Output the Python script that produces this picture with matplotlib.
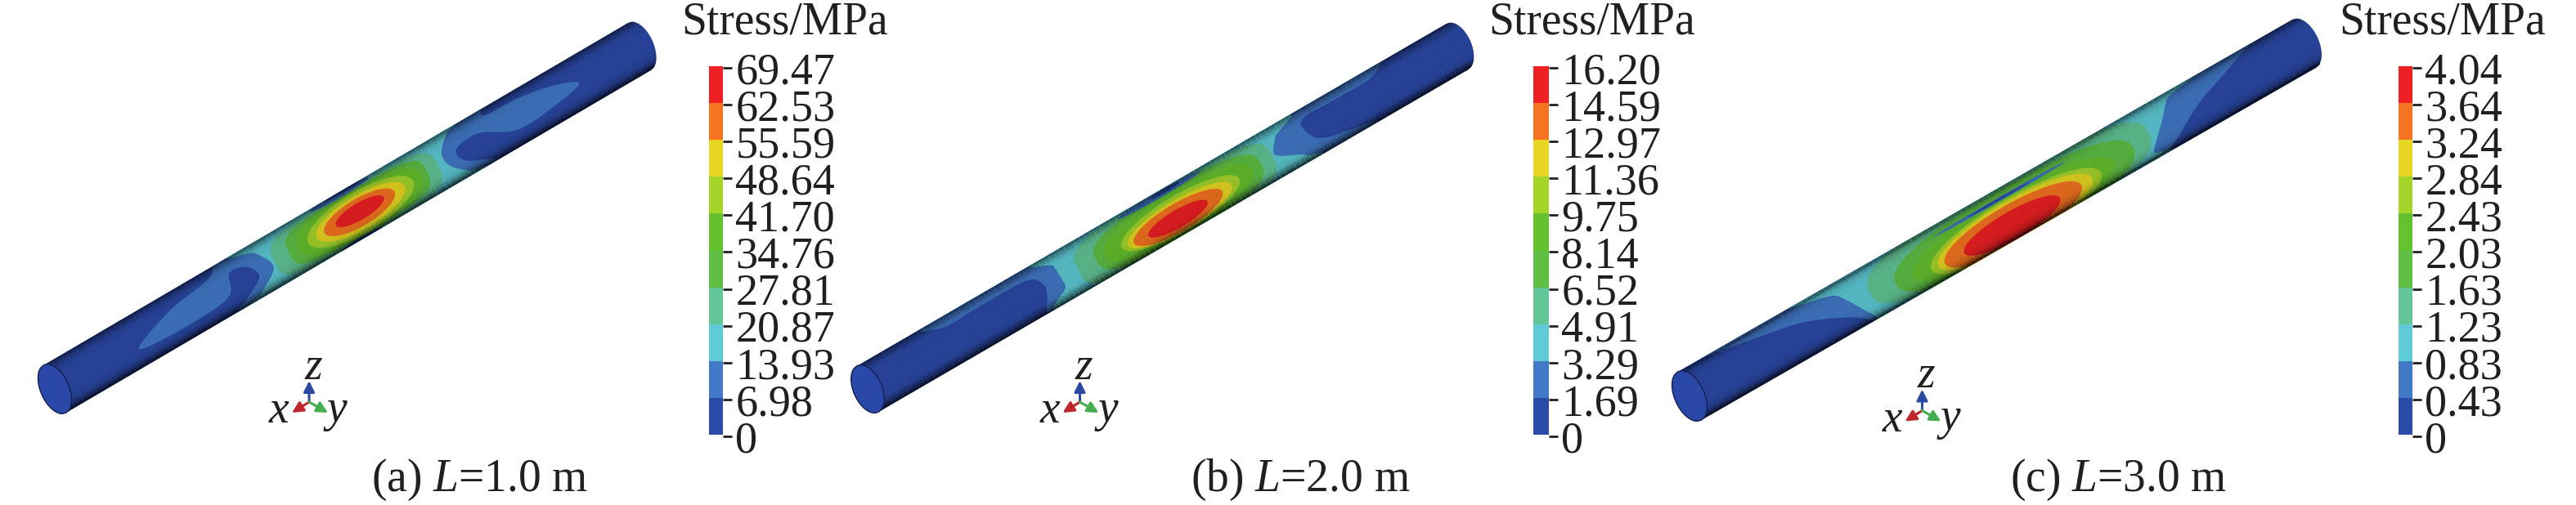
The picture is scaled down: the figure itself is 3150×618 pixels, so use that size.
"""
Three pipe stress contour panels (L = 1, 2, 3 m) with stepped colour bars.
Contours are kept in tube coordinates: s along the pipe (0..1), t across it (-1..1).
"""

import numpy as np
import matplotlib
matplotlib.use('Agg')
import matplotlib.pyplot as plt
from matplotlib.colors import ListedColormap, LinearSegmentedColormap
from matplotlib.patches import PathPatch, Polygon
from matplotlib.path import Path
from matplotlib.transforms import Affine2D

plt.rcParams['font.family'] = ['Liberation Serif', 'DejaVu Serif']
plt.rcParams['mathtext.fontset'] = 'custom'
plt.rcParams['mathtext.rm'] = 'Liberation Serif'
plt.rcParams['mathtext.it'] = 'Liberation Serif:italic'

W, H = 3150, 618
INK = '#231f20'

# colour bands, bottom to top
BAND_COLORS = ['#2c4aa8', '#4279c7', '#5ecbd6', '#62c696', '#5fbf45',
               '#66c12f', '#a5d42b', '#e8d722', '#f47421', '#ee2024']

LEVELS_A = ['0', '6.98', '13.93', '20.87', '27.81', '34.76', '41.70', '48.64', '55.59', '62.53', '69.47']
LEVELS_B = ['0', '1.69', '3.29', '4.91', '6.52', '8.14', '9.75', '11.36', '12.97', '14.59', '16.20']
LEVELS_C = ['0', '0.43', '0.83', '1.23', '1.63', '2.03', '2.43', '2.84', '3.24', '3.64', '4.04']

CAPTIONS = [r'(a) $L$=1.0 m', r'(b) $L$=2.0 m', r'(c) $L$=3.0 m']
CAPTION_X = [587, 1590, 2591]

# near end centre, far end centre, half width vector of the pipe
TUBE_A = [(67, 476), (782, 57), (14, 29)]
TUBE_B = [(1061, 476), (1782, 57), (13.5, 28)]
TUBE_C = [(2066, 484.5), (2817.5, 53.5), (14.5, 29.5)]

# bar left, bar right, title centre
BAR_A = [867, 884, 960]
BAR_B = [1875, 1894, 1947]
BAR_C = [2933, 2950, 2987]

# triad origin
TRIAD_A = (378, 492)
TRIAD_B = (1320.5, 492)
TRIAD_C = (2350.5, 502.5)

# hand traced regions: level, s points, t points
OUTLINES_A = [
    (1, [.1425, .208, .277, .30, .38, .39, .285, .313, .345, .334, .307, .292, .23, .153],
        [.19, -.386, -.665, -1.1, -1.1, 1.1, 1.15, .75, .25, -.325, -.44, .31, .485, .41]),
    (1, [.66, .74, .749, .802, .856, .896, .8416, .782, .729, .69, .695, .745, .66],
        [-1.1, -1.1, -.72, -.647, -.405, .054, .337, .375, -.25, -.155, .40, 1.1, 1.1]),
    (2, [.336, .355, .3705, .34, .33, .695, .692, .67, .668, .688, .70],
        [-1.1, -.6, .2, .8, 1.1, 1.1, .8, .25, -.34, -.88, -1.1]),
]
OUTLINES_B = [
    (1, [.12, .36, .36, .29, .2976, .30, .28, .20, .14],
        [-1.1, -1.1, 1.1, 1.1, .385, -.05, -.545, -.6, -.6]),
    (1, [.66, .87, .866, .80, .754, .743, .763, .834, .84, .66],
        [-1.1, -1.1, -.65, -.62, -.636, -.31, .45, .86, 1.1, 1.1]),
    (2, [.32, .325, .328, .325, .72, .73, .69, .70, .71],
        [-1.1, -.5, .4, 1.1, 1.1, .7, .1, -.5, -1.1]),
]
OUTLINES_C = [
    (1, [.03, .12, .19, .2545, .29, .32, .30, .03],
        [-1.05, -.64, -.27, .456, 1.1, 1.1, -1.1, -1.1]),
    (1, [.70, .92, .90, .83, .775, .74, .70],
        [-1.1, -1.1, -.71, -.03, .776, 1.1, 1.1]),
    (2, [.22, .25, .286, .30, .74, .742, .77, .79, .80],
        [-1.1, -.5, .85, 1.1, 1.1, .7, -.1, -.74, -1.1]),
]

# elliptic regions: level, s centre, t centre, half s, half t, squareness
BLOBS_A = [
    (3, .515, .05, .14, .95, 4),
    (4, .518, .03, .118, .82, 4),
    (5, .521, .05, .105, .85, 2.6),
    (6, .522, .07, .09, .78, 2),
    (7, .522, .07, .075, .65, 2),
    (8, .52, .06, .06, .52, 2),
    (9, .521, .03, .041, .32, 2),
    (1, .505, -.92, .05, .13, 2),
    (0, .51, -.96, .03, .06, 2),
    (0, .506, 1.0, .035, .1, 2),
]
BLOBS_B = [
    (3, .52, .1, .165, 1.05, 4),
    (4, .525, .12, .14, .95, 3),
    (5, .525, .15, .125, .85, 2.4),
    (6, .527, .2, .10, .72, 2),
    (7, .525, .26, .088, .62, 2),
    (8, .521, .3, .075, .55, 2),
    (9, .52, .34, .05, .35, 2),
    (1, .51, -.85, .07, .12, 2),
    (0, .52, -.88, .025, .07, 2),
]
BLOBS_C = [
    (3, .52, .0, .227, 1.15, 3),
    (4, .525, .2, .193, 1.1, 2.4),
    (5, .522, .3, .163, 1.0, 2),
    (6, .524, .4, .138, .9, 2),
    (7, .522, .42, .125, .84, 2),
    (8, .518, .45, .111, .75, 2),
    (9, .516, .47, .078, .52, 2),
    (1, .516, -.62, .106, .07, 2),
    (0, .515, -.62, .05, .04, 2),
]

fig = plt.figure(figsize=(W / 100, H / 100), dpi=100)
ax = fig.add_axes([0, 0, 1, 1])
ax.set_xlim(0, W)
ax.set_ylim(H, 0)
ax.axis('off')

shade_cmap = LinearSegmentedColormap.from_list('shade', [(0, 0, 0, 0), (0, 0, 0, 1)])


def smooth_closed(s, t, n=14):
    """closed Catmull-Rom curve through the traced points"""
    pts = np.column_stack([s, t])
    out = []
    for i in range(len(pts)):
        p0, p1, p2, p3 = pts[i - 1], pts[i], pts[(i + 1) % len(pts)], pts[(i + 2) % len(pts)]
        for u in np.linspace(0, 1, n, endpoint=False):
            out.append(0.5 * (2 * p1 + (p2 - p0) * u + (2 * p0 - 5 * p1 + 4 * p2 - p3) * u ** 2
                              + (3 * p1 - p0 - 3 * p2 + p3) * u ** 3))
    return np.array(out)


def blob_points(sc, tc, hs, ht, power):
    th = np.linspace(0, 2 * np.pi, 120)
    c, v = np.cos(th), np.sin(th)
    return np.column_stack([sc + hs * np.sign(c) * np.abs(c) ** (2 / power),
                            tc + ht * np.sign(v) * np.abs(v) ** (2 / power)])


def draw_tube(tube, outlines, blobs):
    p0, p1, wv = tube
    trans = Affine2D.from_values(p1[0] - p0[0], p1[1] - p0[1], wv[0], wv[1], p0[0], p0[1]) + ax.transData

    # body outline with the two curved ends
    eps = 0.021
    tt = np.linspace(-1, 1, 60)
    arc = eps * np.sqrt(1 - tt ** 2)
    body_pts = np.vstack([np.column_stack([-arc, tt]), np.column_stack([1 + arc[::-1], tt[::-1]])])
    body = PathPatch(Path(np.vstack([body_pts, body_pts[:1]])), transform=trans,
                     facecolor=BAND_COLORS[0], edgecolor='none', zorder=2)
    ax.add_patch(body)

    for level, s, t in outlines:
        patch = Polygon(smooth_closed(s, t), closed=True, transform=trans,
                        facecolor=BAND_COLORS[level], edgecolor='none', zorder=3)
        ax.add_patch(patch)
        patch.set_clip_path(body)
    for i, (level, sc, tc, hs, ht, power) in enumerate(blobs):
        patch = Polygon(blob_points(sc, tc, hs, ht, power), closed=True, transform=trans,
                        facecolor=BAND_COLORS[level], edgecolor='none', zorder=4 + i * 0.01)
        ax.add_patch(patch)
        patch.set_clip_path(body)

    # darker towards both edges
    t_edges = np.linspace(-1, 1, 61)
    t_mid = 0.5 * (t_edges[:-1] + t_edges[1:])
    shade = (np.abs(t_mid) ** 6 * np.where(t_mid > 0, 0.55, 0.35))[:, None] + 0.05
    mesh = ax.pcolormesh([-0.05, 1.05], t_edges, shade, cmap=shade_cmap, vmin=0, vmax=1,
                         transform=trans, zorder=5)
    mesh.set_clip_path(body)

    # open end of the pipe
    end_pts = np.vstack([np.column_stack([-arc, tt]), np.column_stack([arc[::-1], tt[::-1]])])
    ax.add_patch(Polygon(end_pts, closed=True, transform=trans, facecolor='#2a48a8',
                         edgecolor='#15204f', linewidth=1.0, zorder=6))


def draw_bar(bar, labels):
    left, right, title_x = bar
    top, bottom = 81, 532
    cax = fig.add_axes([left / W, 1 - bottom / H, (right - left) / W, (bottom - top) / H])
    cax.pcolormesh([0, 1], np.arange(len(BAND_COLORS) + 1),
                   np.arange(len(BAND_COLORS))[:, None],
                   cmap=ListedColormap(BAND_COLORS), vmin=0, vmax=len(BAND_COLORS))
    cax.set_xticks([])
    cax.set_yticks([])
    for spine in cax.spines.values():
        spine.set_visible(False)

    # the tick marks sit slightly lower than the band edges
    tax = fig.add_axes([left / W, 1 - (bottom + 2) / H, (right - left) / W, (bottom - top) / H])
    tax.patch.set_alpha(0)
    tax.set_ylim(0, len(labels) - 1)
    tax.set_xticks([])
    tax.yaxis.tick_right()
    tax.set_yticks(np.arange(len(labels)))
    tax.set_yticklabels(labels, fontsize=39, color=INK)
    tax.tick_params(axis='y', length=8, width=2, pad=3, color=INK)
    for spine in tax.spines.values():
        spine.set_visible(False)

    ax.text(title_x, 28, 'Stress/MPa', fontsize=40, color=INK, ha='center', va='center')


def draw_triad(origin):
    ox, oy = origin
    arrows = [((ox, oy - 26), '#2b4aa0'), ((ox - 21, oy + 13), '#c0272d'), ((ox + 23, oy + 13), '#45ad4f')]
    for tip, color in arrows:
        ax.annotate('', xy=tip, xytext=origin, zorder=7,
                    arrowprops=dict(arrowstyle='-|>', color=color, lw=2.2, mutation_scale=20,
                                    shrinkA=0, shrinkB=0))
    ax.text(ox + 5, oy - 42, 'z', fontsize=40, style='italic', color=INK, ha='center', va='center')
    ax.text(ox - 37, oy + 11, 'x', fontsize=40, style='italic', color=INK, ha='center', va='center')
    ax.text(ox + 34, oy + 10, 'y', fontsize=40, style='italic', color=INK, ha='center', va='center')


panels = [
    (TUBE_A, OUTLINES_A, BLOBS_A, BAR_A, LEVELS_A, TRIAD_A),
    (TUBE_B, OUTLINES_B, BLOBS_B, BAR_B, LEVELS_B, TRIAD_B),
    (TUBE_C, OUTLINES_C, BLOBS_C, BAR_C, LEVELS_C, TRIAD_C),
]
for k, (tube, outlines, blobs, bar, labels, triad) in enumerate(panels):
    draw_tube(tube, outlines, blobs)
    draw_bar(bar, labels)
    draw_triad(triad)
    ax.text(CAPTION_X[k], 587, CAPTIONS[k], fontsize=40, color=INK, ha='center', va='center')

fig.savefig('out.png', dpi=100)
